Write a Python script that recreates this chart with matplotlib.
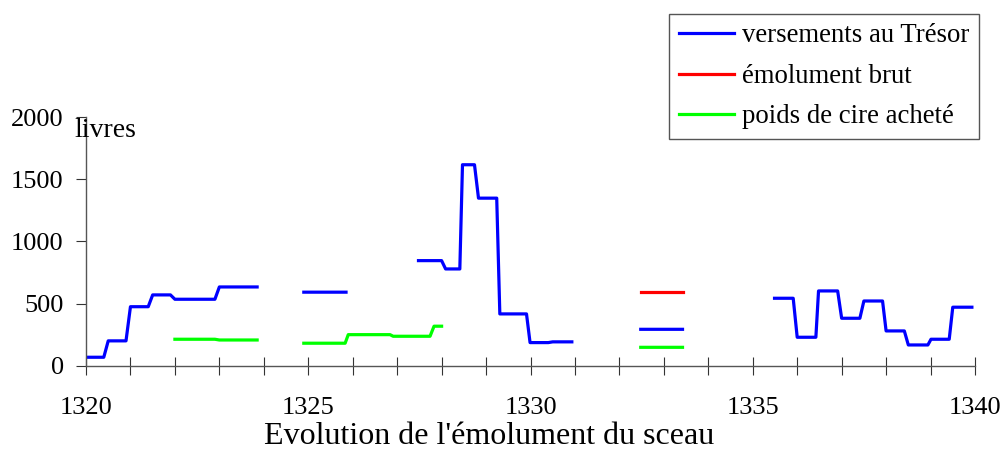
import numpy as np
import matplotlib
matplotlib.use("Agg")
import matplotlib.pyplot as plt

plt.rcParams['font.family'] = ['Liberation Serif', 'DejaVu Serif']

# périodes (début, fin, montant en livres)
bleu_debut = [1320.0, 1320.5, 1321.0, 1321.5, 1322.0, 1323.0,
              1324.9,
              1327.48, 1328.09, 1328.47, 1328.83, 1329.31, 1329.99, 1330.5,
              1332.48,
              1335.49, 1336.0, 1336.48, 1337.0, 1337.5, 1338.0, 1338.5, 1339.01, 1339.5]
bleu_fin = [1320.4, 1320.9, 1321.4, 1321.9, 1322.9, 1323.85,
            1325.85,
            1328.0, 1328.41, 1328.74, 1329.24, 1329.91, 1330.4, 1330.93,
            1333.42,
            1335.91, 1336.42, 1336.91, 1337.41, 1337.92, 1338.41, 1338.94, 1339.42, 1339.93]
bleu_val = [68, 200, 475, 570, 535, 634,
            592,
            846, 779, 1618, 1349, 417, 186, 192,
            293,
            543, 229, 602, 382, 521, 280, 167, 213, 471]

rouge_debut = [1332.48]
rouge_fin = [1333.42]
rouge_val = [596]

vert_debut = [1322.0, 1323.0, 1324.9, 1325.9, 1326.91, 1327.83, 1332.48]
vert_fin = [1322.9, 1323.85, 1325.83, 1326.84, 1327.74, 1328.0, 1333.42]
vert_val = [213, 207, 181, 250, 237, 318, 148]


def trace(debut, fin, val):
    # chaque période = palier, coupure quand il y a un trou dans les données
    xs, ys = [], []
    for i in range(len(val)):
        if i > 0 and debut[i] - fin[i - 1] > 0.5:
            xs.append(np.nan)
            ys.append(np.nan)
        xs += [debut[i], fin[i]]
        ys += [val[i], val[i]]
    return xs, ys


fig = plt.figure(figsize=(10.05, 4.5), dpi=100)
ax = fig.add_axes([86 / 1005, 1 - 365.7 / 450, 889 / 1005, 248.4 / 450])

lw = 2.3
x, y = trace(bleu_debut, bleu_fin, bleu_val)
ax.plot(x, y, color='#0000ff', lw=lw, label='versements au Trésor')
x, y = trace(rouge_debut, rouge_fin, rouge_val)
ax.plot(x, y, color='#ff0000', lw=lw, label='émolument brut')
x, y = trace(vert_debut, vert_fin, vert_val)
ax.plot(x, y, color='#00ff00', lw=lw, label='poids de cire acheté')

ax.set_xlim(1320, 1340)
ax.set_ylim(0, 2000)
ax.set_xticks(range(1320, 1341, 5))
ax.set_xticks(range(1320, 1341), minor=True)
ax.set_yticks(range(0, 2001, 500))

for s in ['top', 'right']:
    ax.spines[s].set_visible(False)
for s in ['left', 'bottom']:
    ax.spines[s].set_color('#555555')
    ax.spines[s].set_linewidth(1.0)

ax.tick_params(axis='y', direction='out', length=7, width=0.8, pad=9,
               labelsize=19, color='#333333')
ax.tick_params(axis='x', which='both', direction='inout', length=13, width=0.8,
               pad=16, labelsize=19, color='#333333')

ax.set_xlabel("Evolution de l'émolument du sceau", fontsize=23)
ax.xaxis.set_label_coords(0.453, -0.316, transform=ax.transAxes)
ax.xaxis.label.set_va('baseline')
ax.text(1319.75, 1845, 'livres', fontsize=20, ha='left', va='baseline')

fig.legend(loc='upper right', bbox_to_anchor=(979 / 1005, 1 - 14 / 450),
           fontsize=19.3, frameon=True, fancybox=False, edgecolor='#555555',
           framealpha=1, handlelength=2.05, borderpad=0.35, labelspacing=0.58,
           handletextpad=0.32, borderaxespad=0)

fig.savefig('out.png', dpi=100)
